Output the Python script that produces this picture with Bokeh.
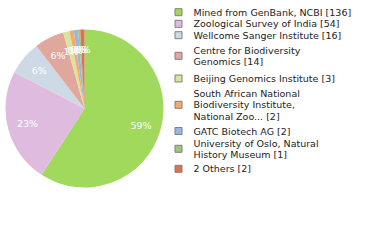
import math
from bokeh.plotting import figure
from bokeh.models import Range1d, ColumnDataSource
from bokeh.core.properties import value
from bokeh.embed import file_html
from bokeh.resources import INLINE

# ---- data ----
categories = [
    "Mined from GenBank, NCBI",
    "Zoological Survey of India",
    "Wellcome Sanger Institute",
    "Centre for Biodiversity Genomics",
    "Beijing Genomics Institute",
    "South African National Biodiversity Institute, National Zoo...",
    "GATC Biotech AG",
    "University of Oslo, Natural History Museum",
    "2 Others",
]
counts = [136, 54, 16, 14, 3, 2, 2, 1, 2]
legend_lines = [
    ["Mined from GenBank, NCBI [136]"],
    ["Zoological Survey of India [54]"],
    ["Wellcome Sanger Institute [16]"],
    ["Centre for Biodiversity", "Genomics [14]"],
    ["Beijing Genomics Institute [3]"],
    ["South African National", "Biodiversity Institute,", "National Zoo... [2]"],
    ["GATC Biotech AG [2]"],
    ["University of Oslo, Natural", "History Museum [1]"],
    ["2 Others [2]"],
]
colors = ["#a0d95b", "#dfbcdf", "#cdd9e5", "#e0a89c", "#dce39c",
          "#f3aa6c", "#96b8dc", "#9fc777", "#e0714f"]

# ---- layout ----
W, H = 380, 240
CX, CY, R = 84, 108, 79          # pie centre / radius in screen px
LABEL_R = 59
FONT = value("DejaVu Sans")
FS = "9.5px"
LEG_SQ_X = 178
LEG_TEXT_X = 193
LEG_ITEM_Y = [11.7, 23.3, 34.7, 49.5, 78.0, 92.7, 130.5, 142.5, 168.3]
LINE_H = 11.6


def sy(y):
    return H - y


total = sum(counts)
starts, ends, lx, ly, ltxt = [], [], [], [], []
cum = 0
for c in counts:
    a0 = math.pi / 2 - 2 * math.pi * cum / total
    cum += c
    a1 = math.pi / 2 - 2 * math.pi * cum / total
    starts.append(a0)
    ends.append(a1)
    mid = (a0 + a1) / 2
    lx.append(CX + LABEL_R * math.cos(mid))
    ly.append(sy(CY) + LABEL_R * math.sin(mid))
    ltxt.append("%d%%" % int(100 * c / total))

p = figure(width=W, height=H, output_backend="svg", toolbar_location=None,
           x_range=Range1d(0, W), y_range=Range1d(0, H),
           x_axis_location=None, y_axis_location=None, min_border=0,
           background_fill_color="white", border_fill_color="white")
p.grid.visible = False
p.outline_line_color = None

src = ColumnDataSource(dict(start=starts, end=ends, color=colors,
                            x=[CX] * len(counts), y=[sy(CY)] * len(counts)))
p.wedge(x="x", y="y", radius=R, start_angle="start", end_angle="end",
        direction="clock", fill_color="color", line_color=None, source=src)

p.text(x=lx, y=ly, text=ltxt, text_color="white", text_font=FONT,
       text_font_size=FS, text_align="center", text_baseline="middle")

# legend
sq_y, tx, ty, tt = [], [], [], []
for item_y, lines in zip(LEG_ITEM_Y, legend_lines):
    n = len(lines)
    sq_y.append(sy(item_y + (n - 1) * LINE_H / 2))
    for i, t in enumerate(lines):
        tx.append(LEG_TEXT_X)
        ty.append(sy(item_y + i * LINE_H))
        tt.append(t)

p.rect(x=[LEG_SQ_X] * len(sq_y), y=sq_y, width=7, height=7,
       fill_color=colors, line_color="#808080", line_width=1)
p.text(x=tx, y=ty, text=tt, text_color="#222222", text_font=FONT,
       text_font_size=FS, text_align="left", text_baseline="middle")

open("out.html", "w").write(file_html(p, INLINE))
